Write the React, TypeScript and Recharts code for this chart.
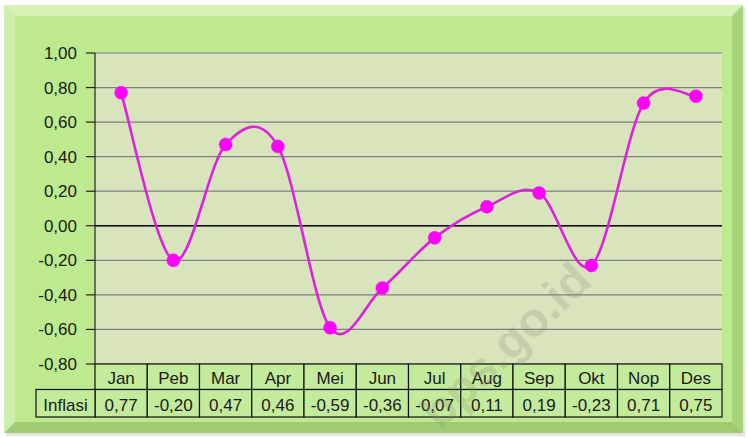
import React from 'react';
import { LineChart, Line, XAxis, YAxis, CartesianGrid, ReferenceLine } from 'recharts';

const months = ['Jan', 'Peb', 'Mar', 'Apr', 'Mei', 'Jun', 'Jul', 'Aug', 'Sep', 'Okt', 'Nop', 'Des'];
const inflasi = [0.77, -0.2, 0.47, 0.46, -0.59, -0.36, -0.07, 0.11, 0.19, -0.23, 0.71, 0.75];
const yTicks = [-0.8, -0.6, -0.4, -0.2, 0, 0.2, 0.4, 0.6, 0.8, 1.0];
const rowLabel = 'Inflasi';

const data = months.map((m, i) => ({ month: m, value: inflasi[i] }));

const W = 748;
const H = 438;
const MARGIN = { top: 53, right: 26, bottom: 0, left: 35 };
const Y_AXIS_W = 60;
const X_AXIS_H = 74;
const PLOT_W = W - MARGIN.left - Y_AXIS_W - MARGIN.right;
const BAND = PLOT_W / months.length;
const ROW1 = 25.5;
const ROW2 = 53;
const LABEL_LEFT = 36;
const FONT = '"Liberation Sans", Arial, sans-serif';
const CELL_FILL = '#c3eb9b';

const fmt = (v: number) => v.toFixed(2).replace('.', ',');

// Excel-like smoothing (Catmull-Rom style Bezier, tension 1/6)
const excelSmooth = (context: any) => {
  let pts: number[][] = [];
  return {
    areaStart() {},
    areaEnd() {},
    lineStart() {
      pts = [];
    },
    lineEnd() {
      if (!pts.length) return;
      context.moveTo(pts[0][0], pts[0][1]);
      for (let i = 0; i < pts.length - 1; i++) {
        const p0 = pts[i - 1] || pts[i];
        const p1 = pts[i];
        const p2 = pts[i + 1];
        const p3 = pts[i + 2] || pts[i + 1];
        const c1x = p1[0] + (p2[0] - p0[0]) / 6;
        const c1y = p1[1] + (p2[1] - p0[1]) / 6;
        const c2x = p2[0] - (p3[0] - p1[0]) / 6;
        const c2y = p2[1] - (p3[1] - p1[1]) / 6;
        context.bezierCurveTo(c1x, c1y, c2x, c2y, p2[0], p2[1]);
      }
    },
    point(x: number, y: number) {
      pts.push([+x, +y]);
    },
  };
};

const TableTick = (props: any) => {
  const { x, y, payload, index } = props;
  const left = x - BAND / 2;
  const val = inflasi[index];
  return (
    <g>
      <rect x={left} y={y} width={BAND} height={ROW1} fill={CELL_FILL} stroke="#111" strokeWidth={1.2} />
      <rect x={left} y={y + ROW1} width={BAND} height={ROW2 - ROW1} fill={CELL_FILL} stroke="#111" strokeWidth={1.2} />
      <text x={x} y={y + 20} textAnchor="middle" fontSize={17} fontFamily={FONT} fill="#1a1a1a">
        {payload.value}
      </text>
      <text x={x} y={y + ROW1 + 21} textAnchor="middle" fontSize={17} fontFamily={FONT} fill="#1a1a1a">
        {fmt(val)}
      </text>
      {index === 0 && (
        <g>
          <rect x={LABEL_LEFT} y={y + ROW1} width={left - LABEL_LEFT} height={ROW2 - ROW1} fill={CELL_FILL} stroke="#111" strokeWidth={1.2} />
          <text x={(LABEL_LEFT + left) / 2} y={y + ROW1 + 21} textAnchor="middle" fontSize={17} fontFamily={FONT} fill="#1a1a1a">
            {rowLabel}
          </text>
        </g>
      )}
    </g>
  );
};

const Frame = () => (
  <svg width={W} height={H} style={{ position: 'absolute', left: 0, top: 0 }}>
    <rect x={0} y={0} width={W} height={H} fill="#ffffff" />
    <rect x={6} y={7} width={739} height={429} fill="#d0d0d0" opacity={0.6} />
    <polygon points="4,5 743,5 732,16 15,16" fill="#d6f3b4" />
    <polygon points="4,5 15,16 15,422 4,433" fill="#cdefaa" />
    <polygon points="743,5 743,433 732,422 732,16" fill="#a6d47a" />
    <polygon points="4,433 743,433 732,422 15,422" fill="#9fcb72" />
    <rect x={15} y={16} width={717} height={406} fill="#bde98f" />
  </svg>
);

const Watermark = () => (
  <svg width={W} height={H} style={{ position: 'absolute', left: 0, top: 0, pointerEvents: 'none' }}>
    <text
      x={505}
      y={362}
      textAnchor="middle"
      fontSize={48}
      fontWeight="bold"
      fontFamily={FONT}
      fill="#8a8a7a"
      opacity={0.22}
      transform="rotate(-44 505 345)"
    >
      bps.go.id
    </text>
  </svg>
);

export default function App() {
  return (
    <div style={{ position: 'absolute', left: 0, top: 0, width: W, height: H }}>
      <Frame />
      <div style={{ position: 'absolute', left: 0, top: 0 }}>
        <LineChart width={W} height={H} data={data} margin={MARGIN}>
          <CartesianGrid vertical={false} stroke="#7f7f7f" strokeWidth={1.2} fill="#d8e4bc" fillOpacity={1} />
          <XAxis
            dataKey="month"
            interval={0}
            tickLine={false}
            tickSize={0}
            tickMargin={0}
            height={X_AXIS_H}
            axisLine={false}
            padding={{ left: BAND / 2, right: BAND / 2 }}
            tick={<TableTick />}
          />
          <YAxis
            width={Y_AXIS_W}
            domain={[-0.8, 1.0]}
            ticks={yTicks}
            tickFormatter={fmt}
            tickSize={9}
            tickMargin={9}
            axisLine={{ stroke: '#222', strokeWidth: 1.2 }}
            tickLine={{ stroke: '#222', strokeWidth: 1.2 }}
            tick={{ fontSize: 17, fontFamily: FONT, fill: '#1a1a1a' }}
            interval={0}
          />
          <ReferenceLine y={0} stroke="#111" strokeWidth={1.4} />
          <Line
            dataKey="value"
            type={excelSmooth as any}
            stroke="#dd22dd"
            strokeWidth={2.6}
            dot={{ r: 6.5, fill: '#ff00ff', stroke: '#ff00ff', strokeWidth: 0.5 }}
            isAnimationActive={false}
          />
        </LineChart>
      </div>
      <Watermark />
    </div>
  );
}
